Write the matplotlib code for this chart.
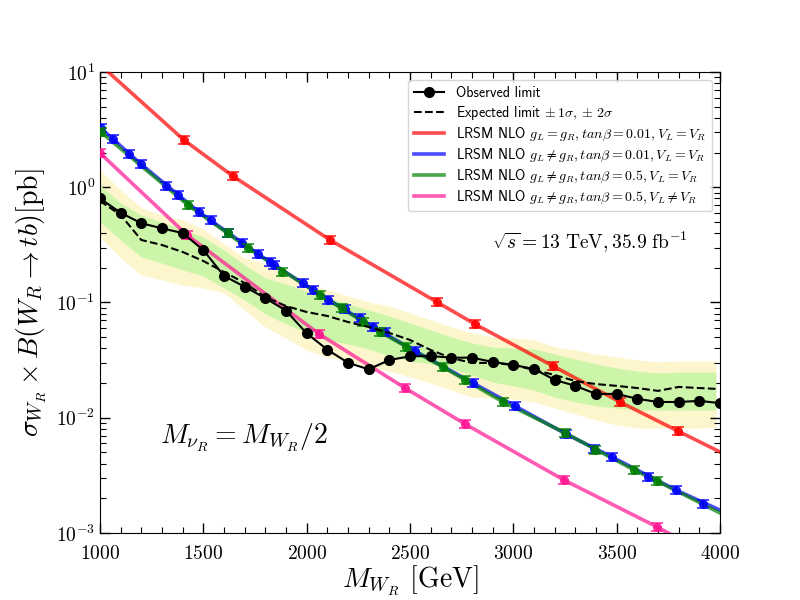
import matplotlib
matplotlib.use("Agg")
import matplotlib.pyplot as plt
import numpy as np

plt.rcParams['font.family'] = 'serif'
plt.rcParams['font.serif'] = ['cmr10']
plt.rcParams['mathtext.fontset'] = 'cm'
plt.rcParams['axes.formatter.use_mathtext'] = True
plt.rcParams['axes.unicode_minus'] = False

# ---------------- data ----------------
obs_x = [1000, 1100, 1200, 1300, 1400, 1500, 1600, 1700, 1800, 1900, 2000,
         2100, 2200, 2300, 2400, 2500, 2600, 2700, 2800, 2900, 3000,
         3100, 3200, 3300, 3400, 3500, 3600, 3700, 3800, 3900, 4000]
obs_y = [0.80, 0.60, 0.487, 0.44, 0.40, 0.285, 0.170, 0.137, 0.109, 0.085, 0.054,
         0.039, 0.030, 0.0263, 0.0317, 0.0341, 0.0343, 0.0332, 0.0332, 0.0305, 0.0287,
         0.0265, 0.0213, 0.0189, 0.0161, 0.0161, 0.0146, 0.0137, 0.0137, 0.0140, 0.0134]

exp_x = [1000, 1100, 1200, 1300, 1400, 1500, 1600, 1700, 1800, 1900, 2000,
         2100, 2200, 2300, 2400, 2500, 2600, 2700, 2800, 2900, 3000,
         3100, 3200, 3300, 3400, 3500, 3600, 3700, 3800, 3900, 3980]
exp_y = [0.760, 0.574, 0.3485, 0.3155, 0.2743, 0.2291, 0.1839, 0.1476, 0.1116, 0.0932, 0.0827,
         0.0764, 0.0677, 0.0613, 0.0544, 0.0473, 0.0387, 0.0330, 0.0299, 0.0299, 0.0287,
         0.0260, 0.0235, 0.0208, 0.0196, 0.0189, 0.0181, 0.0171, 0.0185, 0.0181, 0.0178]
exp_p2 = [1.411, 0.946, 0.661, 0.574, 0.520, 0.434, 0.322, 0.243, 0.216, 0.1877, 0.1476,
          0.1284, 0.1139, 0.1010, 0.0932, 0.0811, 0.0705, 0.0613, 0.0544, 0.0502, 0.0492,
          0.0473, 0.0411, 0.0387, 0.0357, 0.0337, 0.0317, 0.0305, 0.0311, 0.0311, 0.0311]
exp_p1 = [1.046, 0.730, 0.574, 0.4995, 0.4257, 0.370, 0.2854, 0.2115, 0.1632, 0.1447, 0.1258,
          0.1116, 0.0971, 0.0861, 0.0764, 0.0664, 0.0577, 0.0502, 0.0445, 0.0411, 0.0403,
          0.0395, 0.0357, 0.0323, 0.0293, 0.0270, 0.0254, 0.0244, 0.0249, 0.0249, 0.0249]
exp_m1 = [0.4995, 0.3485, 0.248, 0.220, 0.1914, 0.1698, 0.1336, 0.1051, 0.0795, 0.0651, 0.0544,
          0.0473, 0.0436, 0.0395, 0.0343, 0.0311, 0.0293, 0.0265, 0.0235, 0.0204, 0.0189,
          0.0174, 0.0151, 0.0137, 0.01265, 0.01215, 0.01168, 0.01168, 0.01168, 0.01168, 0.01168]
exp_m2 = [0.370, 0.243, 0.1733, 0.1567, 0.1418, 0.1336, 0.1209, 0.0861, 0.0613, 0.0492, 0.0387,
          0.0337, 0.0311, 0.0276, 0.0254, 0.0226, 0.0200, 0.0174, 0.0151, 0.0148, 0.01454,
          0.0137, 0.01215, 0.01078, 0.00956, 0.00865, 0.00815, 0.00815, 0.00815, 0.00815, 0.00831]

# signal curves (line samples) and marker points
red_x = [1000, 1406, 1643, 2113, 2630, 2814, 3192, 3516, 3796, 4000]
red_y = [11.6, 2.57, 1.25, 0.349, 0.101, 0.065, 0.0281, 0.0137, 0.00767, 0.00505]
red_mx = [1406, 1643, 2113, 2630, 2814, 3192, 3516, 3796]
red_my = [2.57, 1.25, 0.349, 0.101, 0.065, 0.0281, 0.0137, 0.00767]

blue_x = [1000, 1198, 1479, 1764, 2031, 2321, 2524, 2805, 3008, 3255, 3477, 3787, 4000]
blue_y = [3.3, 1.59, 0.61, 0.264, 0.128, 0.0613, 0.038, 0.020, 0.01265, 0.00723, 0.00457, 0.00236, 0.00158]
blue_mx = [1005, 1063, 1140, 1198, 1319, 1377, 1479, 1537, 1619, 1687, 1764, 1823, 1842, 1982,
           2031, 2103, 2185, 2258, 2321, 2379, 2524, 2805, 3008, 3255, 3390, 3477, 3652, 3787, 3918]
blue_my = [3.25, 2.62, 1.94, 1.59, 1.03, 0.857, 0.61, 0.52, 0.40, 0.328, 0.264, 0.225, 0.212, 0.148,
           0.128, 0.105, 0.0879, 0.0734, 0.0613, 0.0555, 0.038, 0.020, 0.01265, 0.00723, 0.00535,
           0.00457, 0.00306, 0.00236, 0.00178]

green_x = [1000, 1426, 1716, 2065, 2355, 2660, 2950, 3250, 3584, 3695, 4000]
green_y = [3.05, 0.70, 0.297, 0.116, 0.0555, 0.0275, 0.0137, 0.00738, 0.00352, 0.00283, 0.00149]
green_mx = [1005, 1426, 1619, 1716, 1881, 2065, 2171, 2273, 2355, 2481, 2660, 2766, 2950,
            3250, 3395, 3584, 3695]
green_my = [3.02, 0.70, 0.40, 0.297, 0.184, 0.116, 0.0896, 0.0677, 0.0555, 0.0411, 0.0275,
            0.0213, 0.0137, 0.00738, 0.00525, 0.00352, 0.00283]

pink_x = [1000, 1421, 2060, 2476, 2766, 3245, 3695, 4000]
pink_y = [1.98, 0.385, 0.0533, 0.0181, 0.00883, 0.00288, 0.00113, 0.00057]
pink_mx = [1000, 1421, 2060, 2476, 2766, 3245, 3695]
pink_my = [1.98, 0.385, 0.0533, 0.0181, 0.00883, 0.00288, 0.00113]

labels = ['Observed limit',
          r'Expected limit $\pm\,1\sigma, \pm\,2\sigma$',
          r'LRSM NLO $g_L = g_R, tan\beta = 0.01, V_L = V_R$',
          r'LRSM NLO $g_L \neq g_R, tan\beta = 0.01, V_L = V_R$',
          r'LRSM NLO $g_L \neq g_R, tan\beta = 0.5, V_L = V_R$',
          r'LRSM NLO $g_L \neq g_R, tan\beta = 0.5, V_L \neq V_R$']

rel_err = 0.08

# ---------------- plot ----------------
fig = plt.figure(figsize=(8, 6), dpi=100)
ax = fig.add_axes([0.125, 0.1117, 0.775, 0.7683])

ax.fill_between(exp_x, exp_m2, exp_p2, color='#fdf5cb', lw=0, zorder=1)
ax.fill_between(exp_x, exp_m1, exp_p1, color='#ccf5aa', lw=0, zorder=2)

h_obs, = ax.plot(obs_x, obs_y, '-o', color='black', lw=1.5, ms=7, zorder=10, label=labels[0])
h_exp, = ax.plot(exp_x, exp_y, '--', color='black', lw=1.5, zorder=9, label=labels[1])

sig = [(red_x, red_y, red_mx, red_my, 'red', labels[2]),
       (blue_x, blue_y, blue_mx, blue_my, 'blue', labels[3]),
       (green_x, green_y, green_mx, green_my, 'green', labels[4]),
       (pink_x, pink_y, pink_mx, pink_my, 'deeppink', labels[5])]
handles = [h_obs, h_exp]
for i, (lx, ly, mx, my, c, lab) in enumerate(sig):
    h, = ax.plot(lx, ly, '-', color=c, alpha=0.7, lw=2.6, zorder=5 + 0.1 * i, label=lab)
    my = np.asarray(my)
    ax.errorbar(mx, my, yerr=rel_err * my, fmt='o', color=c, ms=5.5, capsize=4.5,
                elinewidth=1.2, capthick=1.2, alpha=0.85, zorder=6 + 0.1 * i)
    handles.append(h)

ax.set_yscale('log')
ax.set_xlim(1000, 4000)
ax.set_ylim(1e-3, 10)
ax.set_xticks([1000, 1500, 2000, 2500, 3000, 3500, 4000])
ax.xaxis.set_minor_locator(matplotlib.ticker.MultipleLocator(100))
ax.tick_params(which='both', direction='in', top=True, right=True, labelsize=14)
ax.tick_params(which='major', length=7, width=1)
ax.tick_params(which='minor', length=4, width=0.8)
ax.tick_params(axis='x', which='major', pad=9)

ax.set_xlabel(r'$M_{W_R}$ [GeV]', fontsize=20, labelpad=0)
ax.set_ylabel(r'$\sigma_{W_R}\times B(W_R\rightarrow tb)[\mathrm{pb}]$', fontsize=20, labelpad=6)

ax.text(0.632, 0.631, r'$\sqrt{s} = 13\ \mathrm{TeV}, 35.9\ \mathrm{fb}^{-1}$',
        transform=ax.transAxes, fontsize=14, va='center', ha='left')
ax.text(0.097, 0.207, r'$M_{\nu_R} = M_{W_R}/2$', transform=ax.transAxes,
        fontsize=20, va='center', ha='left')

leg = ax.legend(handles=handles, loc='upper right', prop={'family': ['cmss10', 'DejaVu Sans'], 'size': 10.1},
                frameon=True, fancybox=True, framealpha=0.8, edgecolor='#cccccc',
                borderaxespad=0.6, handlelength=2.2, labelspacing=0.26, borderpad=0.4)
leg.set_zorder(20)

fig.savefig('out.png', dpi=100)
